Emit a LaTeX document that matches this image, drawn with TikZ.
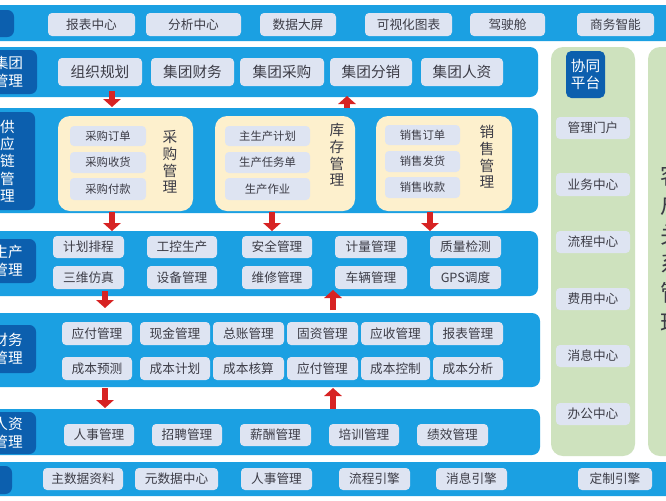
\documentclass[tikz,border=0pt]{standalone}
\usepackage{fontspec}
\setmainfont{Noto Sans CJK SC}
\usetikzlibrary{arrows.meta}
\definecolor{band}{RGB}{27,160,226}
\definecolor{dk}{RGB}{12,95,174}
\definecolor{itm}{RGB}{222,228,242}
\definecolor{cream}{RGB}{253,240,205}
\definecolor{grn}{RGB}{206,226,190}
\definecolor{txt}{RGB}{60,60,70}
\definecolor{arr}{RGB}{215,35,35}
\tikzset{
 bandbox/.style={fill=band,draw=none,rounded corners=6pt,inner sep=0},
 lab/.style={fill=dk,draw=none,rounded corners=5pt,text=white,font=\fontsize{11}{13}\selectfont,align=center,inner sep=0},
 item/.style={fill=itm,draw=none,rounded corners=3pt,text=txt,font=\fontsize{9.5}{11}\selectfont,inner sep=0},
 sitem/.style={item,font=\fontsize{8.5}{10}\selectfont},
 creambox/.style={fill=cream,draw=none,rounded corners=9pt,inner sep=0},
 grnbox/.style={fill=grn,draw=none,rounded corners=9pt,inner sep=0},
 vlab/.style={text=txt,font=\fontsize{11}{12.5}\selectfont,align=center},
 fat/.style={draw=arr,line width=5pt,-{Triangle[width=13pt,length=6pt]},shorten >=0pt},
}
\newcommand\bx[7]{\node[#1, minimum width={(#4-#3)*0.75pt}, minimum height={(#6-#5)*0.75pt}] (#2) at ({(#3+#4)/2},{(#5+#6)/2}) {#7};}
\begin{document}
\begin{tikzpicture}[x=0.75pt,y=-0.75pt]
\useasboundingbox (0,0) rectangle (666,500);
\clip (0,0) rectangle (666,500);
\fill[white] (0,0) rectangle (666,500);
% bands
\bx{bandbox}{top}{-20}{686}{5}{41}{}
\bx{bandbox}{grp}{-20}{538}{47}{97}{}
\bx{bandbox}{sup}{-20}{538}{108}{213}{}
\bx{bandbox}{prd}{-20}{538}{231}{296}{}
\bx{bandbox}{fin}{-20}{540}{313}{387}{}
\bx{bandbox}{hr}{-20}{540}{409}{455}{}
\bx{bandbox}{bot}{-20}{686}{462}{496}{}
% labels
\bx{lab}{ltop}{-20}{14}{10}{37}{}
\bx{lab}{lgrp}{-20}{37}{50}{94}{集团\\管理}
\bx{lab}{lsup}{-20}{35}{112}{210}{供\\应\\链\\管\\理}
\bx{lab}{lprd}{-20}{36}{239}{283}{生产\\管理}
\bx{lab}{lfin}{-20}{36}{325}{373}{财务\\管理}
\bx{lab}{lhr}{-20}{36}{412}{454}{人资\\管理}
\bx{lab}{lbot}{-20}{12}{466}{494}{}
% top items
\bx{item}{t1}{48}{135}{13}{36}{报表中心}
\bx{item}{t2}{146}{241}{13}{36}{分析中心}
\bx{item}{t3}{260}{336}{13}{36}{数据大屏}
\bx{item}{t4}{365}{452}{13}{36}{可视化图表}
\bx{item}{t5}{470}{545}{13}{36}{驾驶舱}
\bx{item}{t6}{577}{654}{13}{36}{商务智能}
% group items
\bx{item,font=\fontsize{11}{13}\selectfont}{g1}{58}{142}{58}{86}{组织规划}
\bx{item,font=\fontsize{11}{13}\selectfont}{g2}{151}{234}{58}{86}{集团财务}
\bx{item,font=\fontsize{11}{13}\selectfont}{g3}{240}{324}{58}{86}{集团采购}
\bx{item,font=\fontsize{11}{13}\selectfont}{g4}{330}{412}{58}{86}{集团分销}
\bx{item,font=\fontsize{11}{13}\selectfont}{g5}{421}{503}{58}{86}{集团人资}
% supply chain
\bx{creambox}{c1}{58}{193}{116}{211}{}
\bx{creambox}{c2}{215}{355}{116}{211}{}
\bx{creambox}{c3}{376}{512}{116}{211}{}
\bx{sitem}{s11}{70}{146}{126}{146}{采购订单}
\bx{sitem}{s12}{70}{146}{152}{173}{采购收货}
\bx{sitem}{s13}{70}{146}{178}{200}{采购付款}
\node[vlab] (v1) at (170,162) {采\\购\\管\\理};
\bx{sitem}{s21}{225}{310}{126}{146}{主生产计划}
\bx{sitem}{s22}{225}{310}{152}{173}{生产任务单}
\bx{sitem}{s23}{225}{310}{178}{200}{生产作业}
\node[vlab] (v2) at (337,155) {库\\存\\管\\理};
\bx{sitem}{s31}{385}{460}{125}{145}{销售订单}
\bx{sitem}{s32}{385}{460}{151}{172}{销售发货}
\bx{sitem}{s33}{385}{460}{177}{198}{销售收款}
\node[vlab] (v3) at (487,157) {销\\售\\管\\理};
% production
\bx{item}{p1}{53}{124}{236}{258}{计划排程}
\bx{item}{p2}{147}{217}{236}{258}{工控生产}
\bx{item}{p3}{242}{312}{236}{258}{安全管理}
\bx{item}{p4}{335}{407}{236}{258}{计量管理}
\bx{item}{p5}{430}{501}{236}{258}{质量检测}
\bx{item}{q1}{53}{124}{266}{289}{三维仿真}
\bx{item}{q2}{147}{217}{266}{289}{设备管理}
\bx{item}{q3}{242}{312}{266}{289}{维修管理}
\bx{item}{q4}{335}{407}{266}{289}{车辆管理}
\bx{item}{q5}{430}{501}{266}{289}{GPS调度}
% finance
\bx{item}{f1}{62}{132}{322}{345}{应付管理}
\bx{item}{f2}{140}{210}{322}{345}{现金管理}
\bx{item}{f3}{213}{284}{322}{345}{总账管理}
\bx{item}{f4}{287}{358}{322}{345}{固资管理}
\bx{item}{f5}{361}{430}{322}{345}{应收管理}
\bx{item}{f6}{433}{503}{322}{345}{报表管理}
\bx{item}{h1}{62}{132}{357}{380}{成本预测}
\bx{item}{h2}{140}{210}{357}{380}{成本计划}
\bx{item}{h3}{213}{284}{357}{380}{成本核算}
\bx{item}{h4}{287}{358}{357}{380}{应付管理}
\bx{item}{h5}{361}{430}{357}{380}{成本控制}
\bx{item}{h6}{433}{503}{357}{380}{成本分析}
% hr
\bx{item}{r1}{64}{134}{424}{446}{人事管理}
\bx{item}{r2}{152}{222}{424}{446}{招聘管理}
\bx{item}{r3}{240}{311}{424}{446}{薪酬管理}
\bx{item}{r4}{329}{399}{424}{446}{培训管理}
\bx{item}{r5}{417}{488}{424}{446}{绩效管理}
% bottom
\bx{item}{b1}{43}{123}{468}{490}{主数据资料}
\bx{item}{b2}{135}{218}{468}{490}{元数据中心}
\bx{item}{b3}{241}{312}{468}{490}{人事管理}
\bx{item}{b4}{339}{410}{468}{490}{流程引擎}
\bx{item}{b5}{436}{507}{468}{490}{消息引擎}
\bx{item}{b6}{578}{652}{468}{490}{定制引擎}
% right columns
\bx{grnbox}{gc}{551}{635}{47}{456}{}
\bx{grnbox}{gc2}{648}{720}{47}{456}{}
\bx{lab,rounded corners=4pt}{xt}{566}{605}{51}{98}{协同\\平台}
\bx{item}{x1}{556}{630}{117}{139}{管理门户}
\bx{item}{x2}{556}{630}{173}{196}{业务中心}
\bx{item}{x3}{556}{630}{231}{253}{流程中心}
\bx{item}{x4}{556}{630}{288}{310}{费用中心}
\bx{item}{x5}{556}{630}{345}{367}{消息中心}
\bx{item}{x6}{556}{630}{403}{425}{办公中心}
\node[text=txt,font=\fontsize{17}{22}\selectfont,align=center,anchor=north west,inner sep=0] (crm) at (660,165) {客\\户\\关\\系\\管\\理};
% arrows
\coordinate (a1s) at (112,91); \coordinate (a1e) at (112,107);
\coordinate (a2s) at (347,108); \coordinate (a2e) at (347,96);
\coordinate (a3s) at (112,212); \coordinate (a3e) at (112,231);
\coordinate (a4s) at (272,212); \coordinate (a4e) at (272,231);
\coordinate (a5s) at (430,212); \coordinate (a5e) at (430,231);
\coordinate (a6s) at (105,291); \coordinate (a6e) at (105,308);
\coordinate (a7s) at (333,310); \coordinate (a7e) at (333,290);
\coordinate (a8s) at (105,388); \coordinate (a8e) at (105,408);
\coordinate (a9s) at (333,409); \coordinate (a9e) at (333,388);
\foreach \i in {1,...,9} \draw[fat] (a\i s) -- (a\i e);
\end{tikzpicture}
\end{document}
